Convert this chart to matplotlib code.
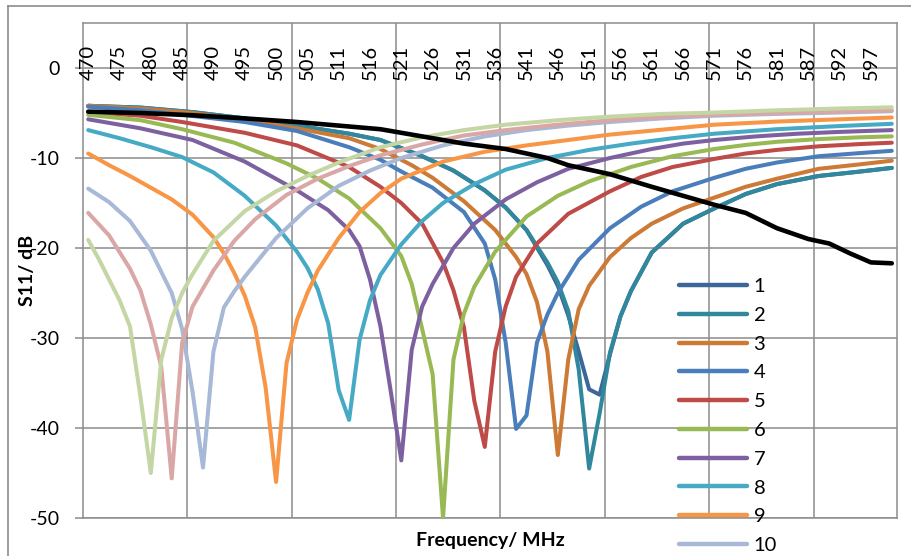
import matplotlib
matplotlib.use("Agg")
import matplotlib.pyplot as plt
from matplotlib.lines import Line2D

plt.rcParams['font.family'] = ['Lato', 'DejaVu Sans']

# category axis (78 frequency points); labels every 3rd point
N_POINTS = 78
tick_idx = list(range(0, 78, 3))
tick_labels = ["470", "475", "480", "485", "490", "495", "500", "505", "511", "516",
               "521", "526", "531", "536", "541", "546", "551", "556", "561", "566",
               "571", "576", "581", "587", "592", "597"]

s1_idx = [0, 5, 10, 15, 20, 25, 28, 32, 35, 38, 40, 42, 44, 45, 46, 47, 48, 49, 50, 51, 52, 54, 57, 60, 63, 66, 70, 74, 77]
s1_db = [-4.2, -4.4, -4.9, -5.6, -6.4, -7.3, -8.0, -9.8, -11.4, -13.6, -15.5, -18.0, -21.9, -24.2, -27.5, -31.5, -35.7, -36.3, -31.8, -27.6, -24.8, -20.5, -17.3, -15.6, -14.0, -12.9, -12.0, -11.5, -11.1]

s2_idx = [0, 5, 10, 15, 20, 25, 28, 32, 35, 38, 40, 42, 44, 45, 46, 47, 48, 49, 50, 51, 52, 54, 57, 60, 63, 66, 70, 74, 77]
s2_db = [-4.2, -4.4, -4.9, -5.6, -6.4, -7.3, -8.0, -9.8, -11.4, -13.6, -15.5, -18.0, -21.6, -23.8, -27.0, -33.5, -44.5, -38.4, -31.6, -27.6, -24.8, -20.5, -17.3, -15.6, -14.0, -12.9, -12.0, -11.5, -11.1]

s3_idx = [0, 5, 10, 15, 20, 25, 28, 31, 33, 36, 39, 41, 42, 43, 44, 45, 46, 47, 48, 50, 52, 54, 57, 60, 63, 66, 70, 74, 77]
s3_db = [-4.2, -4.5, -5.0, -5.8, -6.7, -7.8, -9.0, -10.8, -12.2, -14.8, -18.0, -21.0, -22.9, -26.0, -31.5, -43.0, -32.4, -26.8, -24.2, -21.0, -18.9, -17.3, -15.6, -14.4, -13.2, -12.3, -11.2, -10.7, -10.3]

s4_idx = [0, 5, 9, 15, 20, 25, 28, 30, 33, 36, 38, 39, 40, 41, 42, 43, 44, 45, 47, 50, 53, 56, 60, 63, 66, 70, 74, 77]
s4_db = [-4.3, -4.7, -5.2, -6.0, -7.0, -8.8, -10.2, -11.5, -13.3, -16.0, -19.5, -23.5, -30.5, -40.1, -38.6, -30.5, -27.4, -25.0, -21.3, -17.8, -15.4, -13.7, -12.2, -11.2, -10.5, -9.8, -9.45, -9.2]

s5_idx = [0, 5, 9, 15, 20, 25, 28, 30, 32, 34, 35, 36, 37, 38, 39, 40, 41, 43, 46, 50, 53, 56, 60, 63, 66, 70, 74, 77]
s5_db = [-4.9, -5.3, -6.0, -7.2, -8.6, -11.0, -13.2, -15.0, -17.3, -21.6, -24.7, -28.8, -37.0, -42.1, -31.5, -26.5, -23.2, -19.5, -16.2, -13.7, -12.1, -11.0, -10.1, -9.5, -9.1, -8.7, -8.45, -8.3]

s6_idx = [0, 5, 9, 14, 19, 22, 25, 28, 30, 31, 32, 33, 34, 35, 36, 37, 39, 42, 45, 48, 52, 56, 60, 63, 66, 70, 74, 77]
s6_db = [-5.2, -5.8, -6.8, -8.3, -10.6, -12.3, -14.5, -17.8, -20.9, -24.0, -29.0, -34.0, -50.0, -32.4, -27.3, -24.3, -20.4, -16.5, -14.2, -12.6, -11.0, -9.8, -9.0, -8.55, -8.2, -7.9, -7.7, -7.6]

s7_idx = [0, 5, 10, 15, 20, 23, 25, 26, 27, 28, 29, 30, 31, 32, 33, 35, 37, 40, 43, 46, 50, 54, 57, 60, 64, 68, 72, 77]
s7_db = [-5.7, -6.7, -8.0, -10.4, -13.6, -15.8, -18.0, -19.8, -23.5, -28.7, -36.0, -43.6, -31.3, -26.5, -24.0, -20.0, -17.3, -14.6, -12.7, -11.2, -10.0, -9.0, -8.4, -8.0, -7.6, -7.3, -7.1, -6.9]

s8_idx = [0, 3, 6, 9, 12, 15, 18, 20, 21, 22, 23, 24, 25, 26, 27, 28, 30, 32, 34, 37, 40, 44, 48, 52, 56, 60, 66, 72, 77]
s8_db = [-6.9, -7.8, -8.8, -9.9, -11.6, -14.2, -17.5, -20.4, -22.2, -24.6, -28.4, -35.8, -39.1, -30.2, -25.8, -23.0, -19.6, -17.0, -15.0, -12.9, -11.3, -10.0, -9.1, -8.4, -7.8, -7.3, -6.8, -6.45, -6.2]

s9_idx = [0, 2, 4, 6, 8, 10, 12, 13, 14, 15, 16, 17, 18, 19, 20, 21, 22, 24, 26, 28, 30, 34, 38, 42, 46, 50, 55, 60, 66, 72, 77]
s9_db = [-9.5, -10.8, -12.0, -13.3, -14.6, -16.3, -18.8, -20.6, -22.8, -25.3, -28.8, -35.5, -46.0, -32.8, -28.0, -25.0, -22.5, -18.9, -16.0, -13.9, -12.3, -10.4, -9.3, -8.6, -8.0, -7.4, -6.85, -6.3, -5.95, -5.7, -5.5]

s10_idx = [0, 2, 4, 6, 8, 9, 10, 11, 12, 13, 14, 15, 18, 21, 24, 27, 30, 34, 38, 42, 46, 50, 55, 60, 66, 72, 77]
s10_db = [-13.4, -14.9, -17.0, -20.3, -25.0, -29.0, -36.0, -44.4, -31.5, -26.6, -24.8, -23.2, -18.9, -15.6, -13.1, -11.4, -10.0, -8.6, -7.6, -6.9, -6.4, -6.0, -5.6, -5.3, -5.1, -4.95, -4.8]

s11_idx = [0, 2, 4, 5, 6, 7, 8, 9, 10, 11, 12, 14, 16, 19, 22, 25, 28, 32, 36, 40, 45, 50, 55, 60, 66, 72, 77]
s11_db = [-16.1, -18.6, -22.3, -24.7, -28.5, -33.2, -45.6, -30.5, -26.5, -24.5, -22.5, -19.2, -16.8, -14.1, -12.3, -10.9, -9.7, -8.5, -7.5, -6.9, -6.3, -5.8, -5.45, -5.2, -5.0, -4.85, -4.7]

s12_idx = [0, 1, 2, 3, 4, 5, 6, 7, 8, 9, 10, 12, 15, 18, 21, 24, 28, 32, 36, 40, 45, 50, 55, 60, 66, 72, 77]
s12_db = [-19.1, -21.2, -23.5, -25.8, -28.7, -36.5, -45.0, -32.4, -27.8, -25.0, -22.9, -19.2, -15.9, -13.7, -12.0, -10.5, -8.8, -7.7, -6.9, -6.3, -5.8, -5.4, -5.1, -4.95, -4.7, -4.5, -4.37]

s13_idx = [0, 5, 10, 15, 20, 24, 28, 31, 36, 40, 44, 46, 50, 54, 57, 60, 63, 66, 69, 71, 73, 75, 77]
s13_db = [-4.85, -5.0, -5.25, -5.6, -6.0, -6.4, -6.8, -7.4, -8.4, -9.0, -10.0, -10.8, -11.8, -13.2, -14.2, -15.2, -16.1, -17.8, -19.0, -19.5, -20.6, -21.6, -21.7]

series_names = ["1", "2", "3", "4", "5", "6", "7", "8", "9", "10", "11", "12", "13"]
series_idx = [s1_idx, s2_idx, s3_idx, s4_idx, s5_idx, s6_idx, s7_idx, s8_idx, s9_idx,
              s10_idx, s11_idx, s12_idx, s13_idx]
series_db = [s1_db, s2_db, s3_db, s4_db, s5_db, s6_db, s7_db, s8_db, s9_db,
             s10_db, s11_db, s12_db, s13_db]
colors = ["#3D679A", "#31879B", "#CC7A35", "#4A7EBB", "#BE4B48", "#98B954", "#7D60A0",
          "#46AAC5", "#F79646", "#A7B9D7", "#D9A7A6", "#C3D6A4", "#000000"]

W, H = 911, 556
fig = plt.figure(figsize=(W / 100, H / 100), dpi=100)
L, R, T, B = 83, 897, 23, 518
ax = fig.add_axes([L / W, 1 - B / H, (R - L) / W, (B - T) / H])

grid_c = "#8C8C8C"
for yv in range(-50, 1, 10):
    ax.axhline(yv, color=grid_c, lw=1.1, zorder=0)
for xv in range(10, N_POINTS, 10):
    ax.axvline(xv - 0.5, color=grid_c, lw=1.1, zorder=0)

handles = []
for k, (xi, yi) in enumerate(zip(series_idx, series_db)):
    lw = 3.3 if k == 12 else 2.9
    ln, = ax.plot(xi, yi, color=colors[k], lw=lw, solid_capstyle='round',
                  solid_joinstyle='round', zorder=2 + k, label=series_names[k])
    handles.append(ln)

ax.set_xlim(-0.5, N_POINTS - 0.5)
ax.set_ylim(-50, 5)
ax.set_yticks(range(-50, 1, 10))
ax.set_yticklabels([str(v) for v in range(-50, 1, 10)], fontsize=14)
ax.tick_params(axis='y', length=6, width=1.1, color=grid_c, pad=11)
ax.set_xticks([])
for sp in ax.spines.values():
    sp.set_color(grid_c)
    sp.set_linewidth(1.1)

for i, lab in zip(tick_idx, tick_labels):
    ax.text(i, 0.6, lab, rotation=90, ha='center', va='center', fontsize=14.5, zorder=20)

ax.set_ylabel("S11/ dB", fontsize=14, fontweight='bold')
ax.yaxis.set_label_coords((36 - L) / (R - L), 0.5)
ax.set_xlabel("Frequency/ MHz", fontsize=14, fontweight='bold')
ax.xaxis.set_label_coords(0.5, -(532 - B) / (B - T))

leg = fig.legend(handles=handles, loc='upper left',
                 bbox_to_anchor=(679 / W, 1 - 278 / H), frameon=False,
                 fontsize=14.5, handlelength=3.4, handletextpad=0.3,
                 labelspacing=0.58, borderpad=0, borderaxespad=0)
for lh in leg.get_lines():
    lh.set_linewidth(3.2)

# outer chart border
fig.add_artist(Line2D([8 / W, 1.0], [1 - 6 / H, 1 - 6 / H], color="#8C8C8C", lw=1.2))
fig.add_artist(Line2D([8 / W, 8 / W], [0.0, 1 - 6 / H], color="#8C8C8C", lw=1.2))

fig.savefig("out.png", dpi=100)
